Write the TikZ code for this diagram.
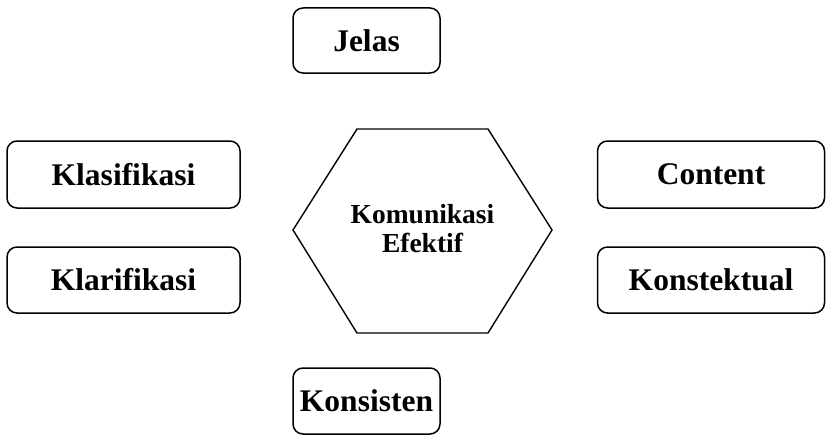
\documentclass[tikz,border=0pt]{standalone}
\usepackage{fontspec}
\setmainfont{Liberation Serif}
\begin{document}
\begin{tikzpicture}[x=1pt,y=-1pt,
  itembox/.style={draw=black,line width=1.5pt,rounded corners=10pt,inner sep=0pt,
    font=\fontsize{31.5}{36}\selectfont\bfseries},
  hexlabel/.style={font=\fontsize{27.5}{29}\selectfont\bfseries,align=center,inner sep=0pt}]
\useasboundingbox (0,0) rectangle (826,436);
\node[itembox,minimum width=147pt,minimum height=65pt] (jelas) at (366.5,40.5) {Jelas};
\node[itembox,minimum width=233pt,minimum height=67pt] (klas) at (123.5,174.5) {Klasifikasi};
\node[itembox,minimum width=233pt,minimum height=66pt] (klar) at (123.5,280) {Klarifikasi};
\node[itembox,minimum width=227pt,minimum height=67pt] (cont) at (711,174.5) {Content};
\node[itembox,minimum width=227pt,minimum height=66pt] (konst) at (711,280) {Konstektual};
\node[itembox,minimum width=147pt,minimum height=66pt] (kons) at (366.5,401) {Konsisten};
\draw[line width=1.4pt,line join=miter] (293,230) -- (357,129) -- (488,129) -- (552,230) -- (488,333) -- (357,333) -- cycle;
\node[hexlabel] (center) at (422.5,229) {Komunikasi\\Efektif};
\end{tikzpicture}
\end{document}
